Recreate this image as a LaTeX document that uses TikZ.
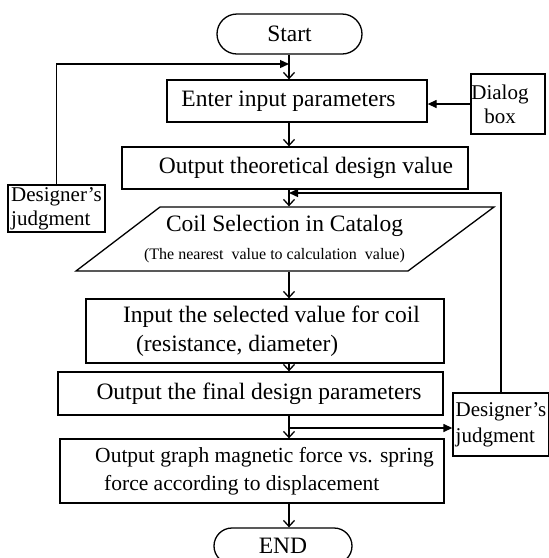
\documentclass[tikz,border=0pt]{standalone}
\usepackage{fontspec}
\setmainfont{Liberation Serif}
\usetikzlibrary{arrows.meta}

\begin{document}
\begin{tikzpicture}[x=1pt, y=1pt, line width=1.3pt,
    >={Straight Barb[length=6pt,width=11pt]},
    box/.style={draw, rectangle, minimum height=42pt, inner sep=2pt, font=\fontsize{23.5}{29}\selectfont},
    term/.style={draw, rectangle, rounded corners=20pt, minimum height=40pt, font=\fontsize{23.5}{28}\selectfont},
    side/.style={draw, rectangle, align=left, inner sep=2pt, font=\fontsize{21}{24}\selectfont},
    fb/.style={-{Triangle[length=9pt,width=8pt]}}]
  \useasboundingbox (0,0) rectangle (549,-558);
  \coordinate (spine) at (289,0);

  \node[term, minimum width=145pt] (start) at (289.5,-34) {Start};
  \node[box, minimum width=260pt] (enter) at (297,-101) {Enter input parameters\hspace*{17pt}};
  \node[side, align=center, inner xsep=0pt, minimum width=74pt, minimum height=60pt] (dialog) at (508,-104) {Dialog\hspace*{16pt}\\box\hspace*{16pt}};
  \node[box, minimum width=346pt] (theo) at (295,-168) {\hspace*{22pt}Output theoretical design value};
  \node[minimum width=330pt, minimum height=64pt, inner sep=1pt, align=center, font=\fontsize{23.5}{27}\selectfont] (coil) at (284.5,-239)
       {Coil Selection in Catalog\\[1pt]{\fontsize{16}{18}\selectfont (The nearest\ \ value\ to calculation\ \ value)\hspace*{20pt}}};
  \draw[shift={(coil.center)}] (-124.5,32) -- (209.5,32) -- (123.5,-32) -- (-208.5,-32) -- cycle;
  \node[box, minimum width=358pt, minimum height=64pt, align=left] (sel) at (265,-331)
       {\hspace*{13pt}Input the selected value for coil\\\hspace*{26pt}(resistance, diameter)};
  \node[box, minimum width=385pt, minimum height=43pt] (fin) at (250.5,-393.5) {\hspace*{17pt}Output the final design parameters};
  \node[box, minimum width=384pt, minimum height=64pt, align=left, font=\fontsize{21.5}{28}\selectfont] (graph) at (252,-471)
       {\hspace*{25pt}Output graph magnetic force vs. spring\\\hspace*{34pt}force according to displacement};
  \node[term, minimum width=138pt, minimum height=36pt, rounded corners=18pt] (endn) at (283,-546) {END};
  \node[side, minimum width=97pt, minimum height=47pt] (judgeL) at (56.5,-208.5) {Designer’s\\judgment};
  \node[side, minimum width=96pt, minimum height=63pt, font=\fontsize{21}{26}\selectfont] (judgeR) at (501,-424.5) {Designer’s\\judgment};

  \draw[->] (start.south -| spine) -- (enter.north -| spine);
  \draw[->] (enter.south -| spine) -- (theo.north -| spine);
  \draw[->] (theo.south -| spine) -- (coil.north -| spine);
  \draw[->] (coil.south -| spine) -- (sel.north -| spine);
  \draw[->] (sel.south -| spine) -- (fin.north -| spine);
  \draw[->] (fin.south -| spine) -- (graph.north -| spine);
  \draw[->] (graph.south -| spine) -- (endn.north -| spine);

  \coordinate (j1) at (289,-64);
  \coordinate (j2) at (289,-193);
  \coordinate (j3) at (289,-428);
  \draw[fb] (judgeL.north) |- (j1);
  \draw[fb] (judgeR.north) |- (j2);
  \draw[fb] (j3) -- (j3 -| judgeR.west);
  \draw[fb] (dialog.west) -- (dialog.west -| enter.east);
\end{tikzpicture}
\end{document}
